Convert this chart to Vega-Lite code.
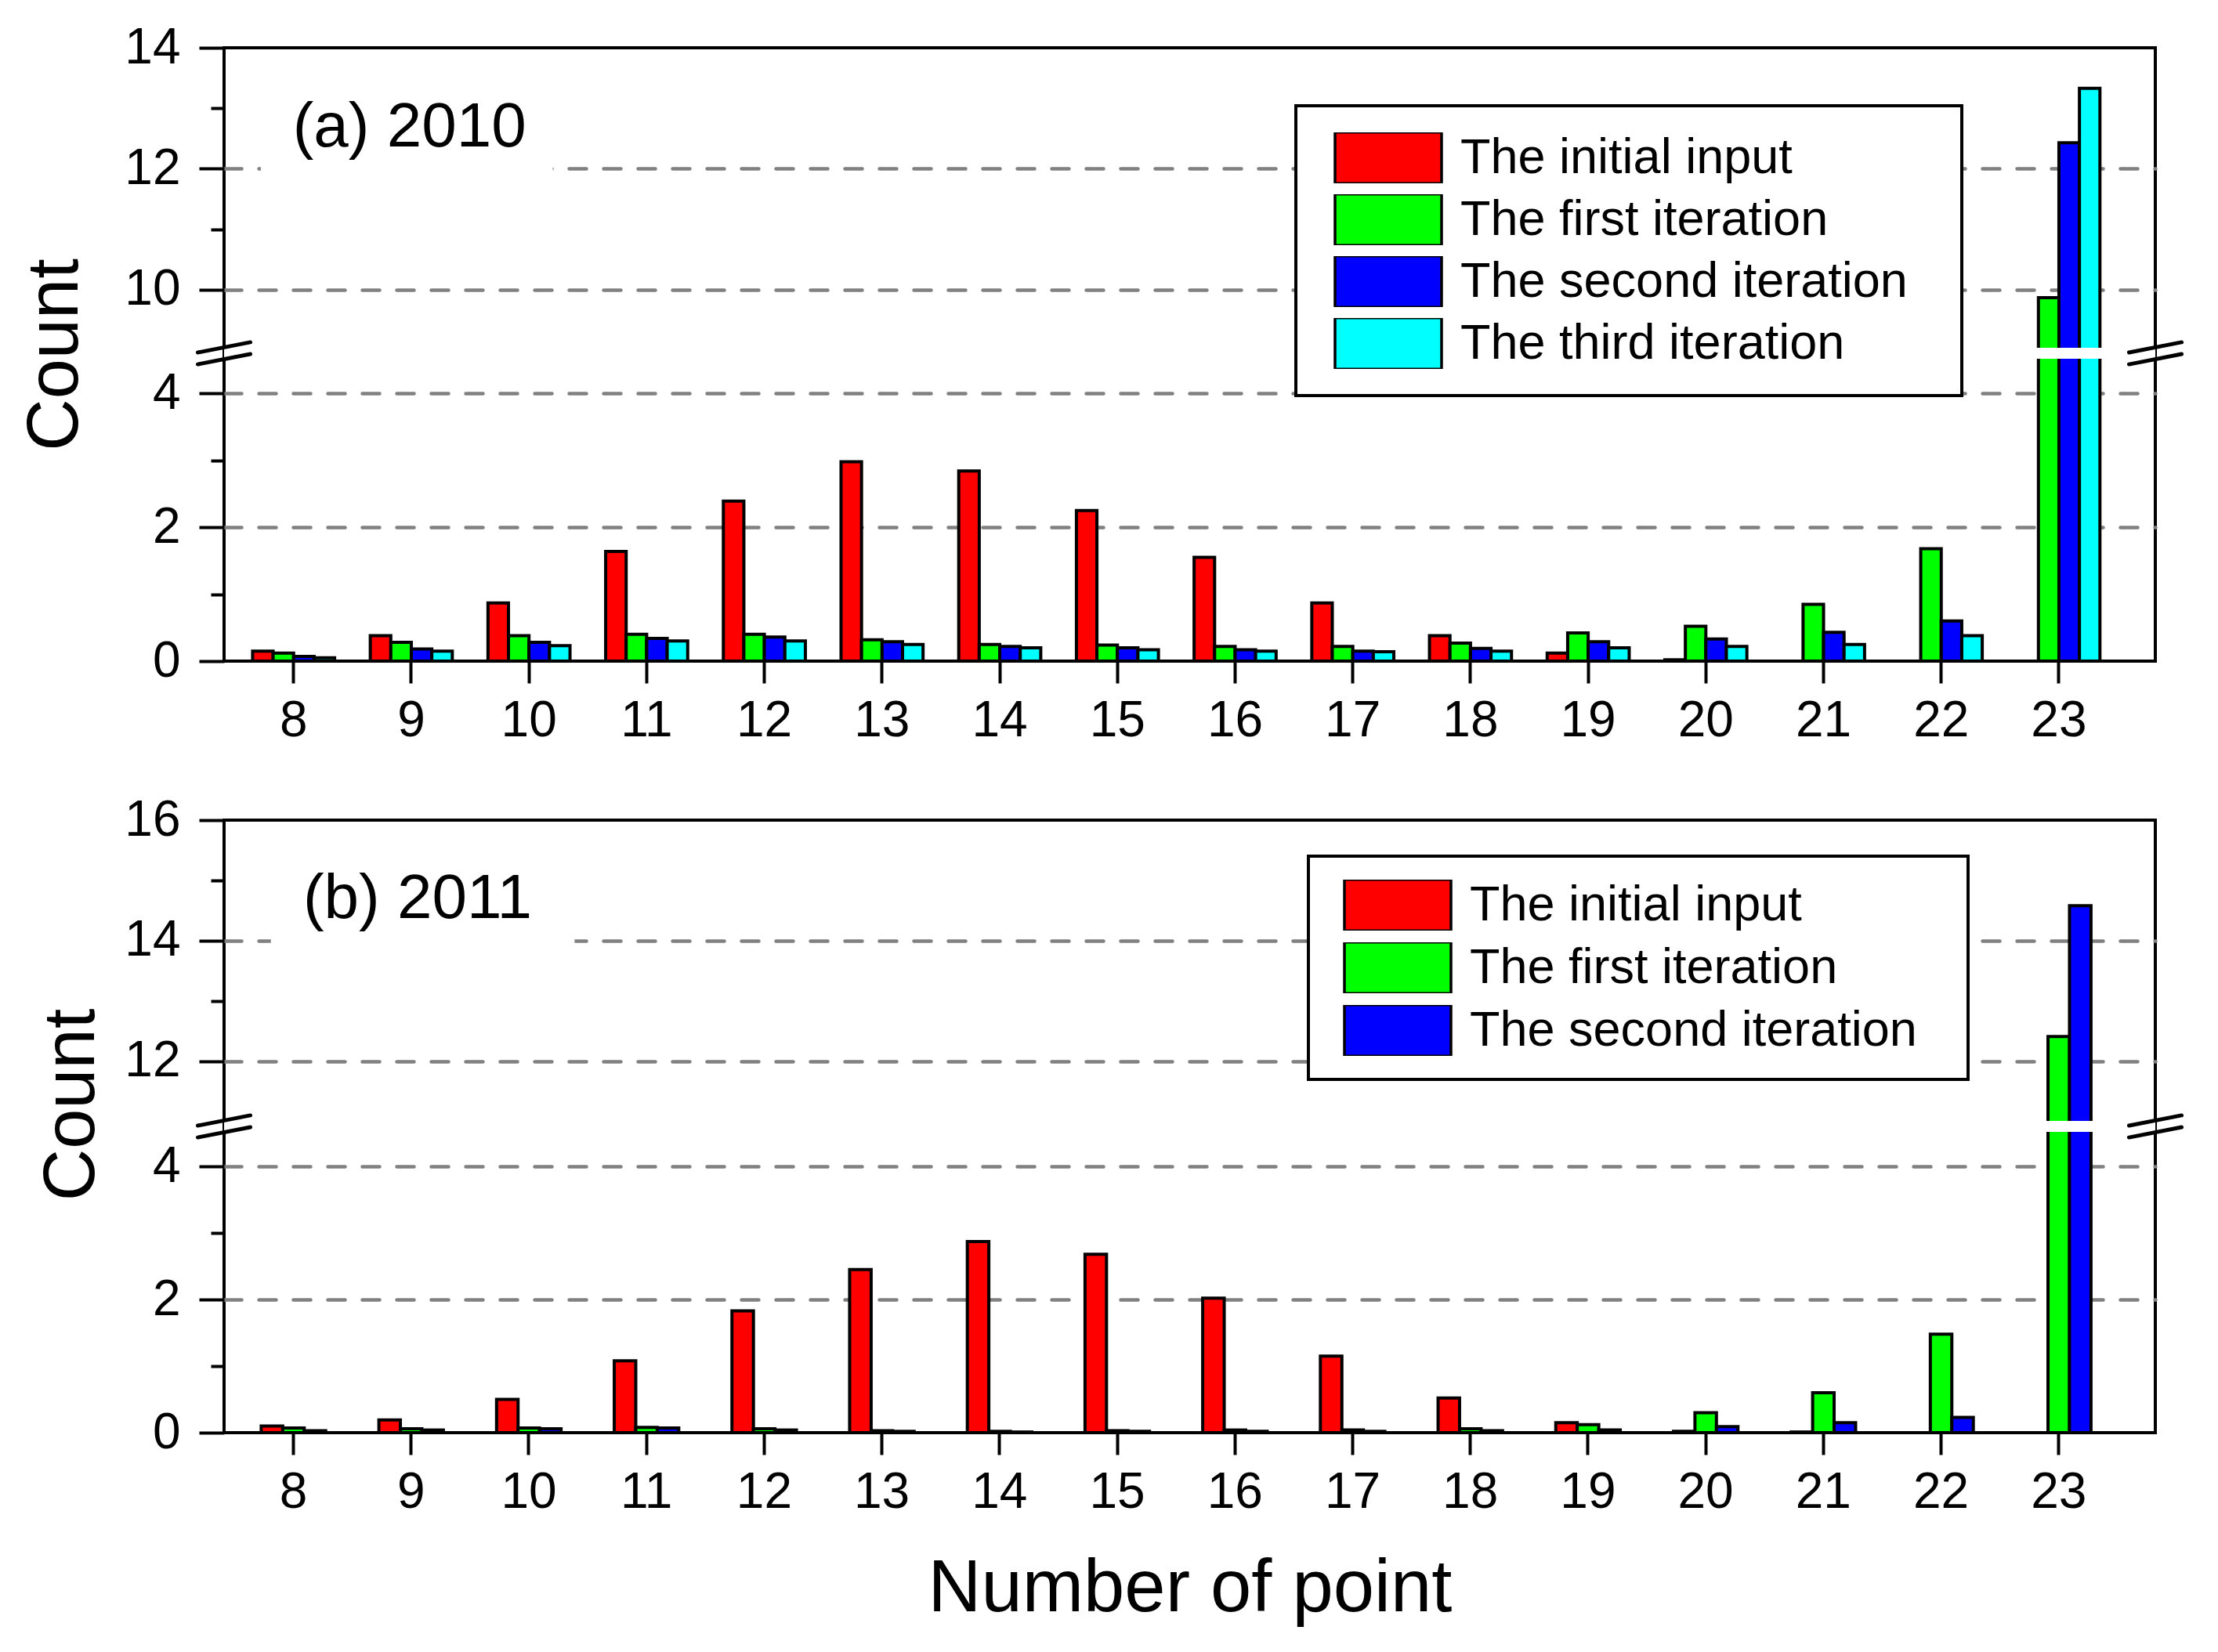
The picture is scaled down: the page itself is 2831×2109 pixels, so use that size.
{
  "$schema": "https://vega.github.io/schema/vega-lite/v6.json",
  "background": "white",
  "padding": {"left": 22, "top": 27, "right": 10, "bottom": 10},
  "spacing": 59,
  "config": {
    "font": "Liberation Sans",
    "view": {"stroke": "black", "strokeWidth": 4},
    "legend": {"strokeWidth": 4}
  },
  "datasets": {
    "y2010": [
      {"p": 8, "s": "The initial input", "v": 0.15}, {"p": 8, "s": "The first iteration", "v": 0.12}, {"p": 8, "s": "The second iteration", "v": 0.07}, {"p": 8, "s": "The third iteration", "v": 0.05},
      {"p": 9, "s": "The initial input", "v": 0.38}, {"p": 9, "s": "The first iteration", "v": 0.28}, {"p": 9, "s": "The second iteration", "v": 0.18}, {"p": 9, "s": "The third iteration", "v": 0.15},
      {"p": 10, "s": "The initial input", "v": 0.87}, {"p": 10, "s": "The first iteration", "v": 0.38}, {"p": 10, "s": "The second iteration", "v": 0.28}, {"p": 10, "s": "The third iteration", "v": 0.23},
      {"p": 11, "s": "The initial input", "v": 1.64}, {"p": 11, "s": "The first iteration", "v": 0.40}, {"p": 11, "s": "The second iteration", "v": 0.34}, {"p": 11, "s": "The third iteration", "v": 0.30},
      {"p": 12, "s": "The initial input", "v": 2.39}, {"p": 12, "s": "The first iteration", "v": 0.40}, {"p": 12, "s": "The second iteration", "v": 0.36}, {"p": 12, "s": "The third iteration", "v": 0.30},
      {"p": 13, "s": "The initial input", "v": 2.98}, {"p": 13, "s": "The first iteration", "v": 0.32}, {"p": 13, "s": "The second iteration", "v": 0.29}, {"p": 13, "s": "The third iteration", "v": 0.25},
      {"p": 14, "s": "The initial input", "v": 2.84}, {"p": 14, "s": "The first iteration", "v": 0.25}, {"p": 14, "s": "The second iteration", "v": 0.22}, {"p": 14, "s": "The third iteration", "v": 0.20},
      {"p": 15, "s": "The initial input", "v": 2.25}, {"p": 15, "s": "The first iteration", "v": 0.24}, {"p": 15, "s": "The second iteration", "v": 0.20}, {"p": 15, "s": "The third iteration", "v": 0.17},
      {"p": 16, "s": "The initial input", "v": 1.55}, {"p": 16, "s": "The first iteration", "v": 0.22}, {"p": 16, "s": "The second iteration", "v": 0.17}, {"p": 16, "s": "The third iteration", "v": 0.15},
      {"p": 17, "s": "The initial input", "v": 0.87}, {"p": 17, "s": "The first iteration", "v": 0.22}, {"p": 17, "s": "The second iteration", "v": 0.15}, {"p": 17, "s": "The third iteration", "v": 0.14},
      {"p": 18, "s": "The initial input", "v": 0.38}, {"p": 18, "s": "The first iteration", "v": 0.27}, {"p": 18, "s": "The second iteration", "v": 0.19}, {"p": 18, "s": "The third iteration", "v": 0.15},
      {"p": 19, "s": "The initial input", "v": 0.12}, {"p": 19, "s": "The first iteration", "v": 0.42}, {"p": 19, "s": "The second iteration", "v": 0.29}, {"p": 19, "s": "The third iteration", "v": 0.20},
      {"p": 20, "s": "The initial input", "v": 0.02}, {"p": 20, "s": "The first iteration", "v": 0.52}, {"p": 20, "s": "The second iteration", "v": 0.33}, {"p": 20, "s": "The third iteration", "v": 0.22},
      {"p": 21, "s": "The initial input", "v": 0}, {"p": 21, "s": "The first iteration", "v": 0.85}, {"p": 21, "s": "The second iteration", "v": 0.43}, {"p": 21, "s": "The third iteration", "v": 0.25},
      {"p": 22, "s": "The initial input", "v": 0}, {"p": 22, "s": "The first iteration", "v": 1.68}, {"p": 22, "s": "The second iteration", "v": 0.60}, {"p": 22, "s": "The third iteration", "v": 0.38},
      {"p": 23, "s": "The initial input", "v": 0}, {"p": 23, "s": "The first iteration", "v": 9.87}, {"p": 23, "s": "The second iteration", "v": 12.43}, {"p": 23, "s": "The third iteration", "v": 13.33}
    ],
    "y2011": [
      {"p": 8, "s": "The initial input", "v": 0.10}, {"p": 8, "s": "The first iteration", "v": 0.07}, {"p": 8, "s": "The second iteration", "v": 0.03},
      {"p": 9, "s": "The initial input", "v": 0.19}, {"p": 9, "s": "The first iteration", "v": 0.06}, {"p": 9, "s": "The second iteration", "v": 0.04},
      {"p": 10, "s": "The initial input", "v": 0.50}, {"p": 10, "s": "The first iteration", "v": 0.07}, {"p": 10, "s": "The second iteration", "v": 0.06},
      {"p": 11, "s": "The initial input", "v": 1.08}, {"p": 11, "s": "The first iteration", "v": 0.08}, {"p": 11, "s": "The second iteration", "v": 0.07},
      {"p": 12, "s": "The initial input", "v": 1.83}, {"p": 12, "s": "The first iteration", "v": 0.06}, {"p": 12, "s": "The second iteration", "v": 0.04},
      {"p": 13, "s": "The initial input", "v": 2.45}, {"p": 13, "s": "The first iteration", "v": 0.03}, {"p": 13, "s": "The second iteration", "v": 0.02},
      {"p": 14, "s": "The initial input", "v": 2.87}, {"p": 14, "s": "The first iteration", "v": 0.02}, {"p": 14, "s": "The second iteration", "v": 0.01},
      {"p": 15, "s": "The initial input", "v": 2.68}, {"p": 15, "s": "The first iteration", "v": 0.03}, {"p": 15, "s": "The second iteration", "v": 0.02},
      {"p": 16, "s": "The initial input", "v": 2.02}, {"p": 16, "s": "The first iteration", "v": 0.04}, {"p": 16, "s": "The second iteration", "v": 0.02},
      {"p": 17, "s": "The initial input", "v": 1.15}, {"p": 17, "s": "The first iteration", "v": 0.04}, {"p": 17, "s": "The second iteration", "v": 0.02},
      {"p": 18, "s": "The initial input", "v": 0.52}, {"p": 18, "s": "The first iteration", "v": 0.06}, {"p": 18, "s": "The second iteration", "v": 0.03},
      {"p": 19, "s": "The initial input", "v": 0.15}, {"p": 19, "s": "The first iteration", "v": 0.12}, {"p": 19, "s": "The second iteration", "v": 0.04},
      {"p": 20, "s": "The initial input", "v": 0.02}, {"p": 20, "s": "The first iteration", "v": 0.30}, {"p": 20, "s": "The second iteration", "v": 0.09},
      {"p": 21, "s": "The initial input", "v": 0.01}, {"p": 21, "s": "The first iteration", "v": 0.60}, {"p": 21, "s": "The second iteration", "v": 0.15},
      {"p": 22, "s": "The initial input", "v": 0}, {"p": 22, "s": "The first iteration", "v": 1.48}, {"p": 22, "s": "The second iteration", "v": 0.23},
      {"p": 23, "s": "The initial input", "v": 0}, {"p": 23, "s": "The first iteration", "v": 12.41}, {"p": 23, "s": "The second iteration", "v": 14.58}
    ]
  },
  "vconcat": [
    {
      "width": 2465,
      "height": 783,
      "layer": [
        {
          "data": {"name": "y2010"},
          "mark": {"type": "bar", "stroke": "black", "strokeWidth": 4, "strokeJoin": "miter", "opacity": 1},
          "encoding": {
            "x": {
              "field": "p", "type": "ordinal",
              "scale": {"paddingInner": 0.303, "paddingOuter": 0.3565, "align": 0.34},
              "axis": {"title": null, "labelAngle": 0, "domain": false, "grid": false, "tickSize": 28, "tickWidth": 4, "tickColor": "black", "labelFontSize": 64, "labelPadding": 16, "labelColor": "black", "zindex": 0}
            },
            "xOffset": {"field": "s", "type": "nominal", "sort": ["The initial input", "The first iteration", "The second iteration", "The third iteration"], "scale": {"paddingInner": 0, "paddingOuter": 0}},
            "y": {
              "field": "v", "type": "quantitative",
              "scale": {"domain": [0, 4.6, 8.95, 14], "range": [783, 390, 390, 0], "nice": false, "zero": false},
              "axis": {
                "title": "Count", "values": [0, 1, 2, 3, 4, 10, 11, 12, 13, 14], "format": "d",
                "labelExpr": "datum.value % 2 == 1 ? '' : datum.label",
                "tickSize": {"condition": {"test": "datum.value % 2 == 1", "value": 17}, "value": 32},
                "grid": true, "gridColor": "#808080", "gridDash": [22, 22], "gridWidth": 4.5, "gridCap": "round",
                "gridOpacity": {"condition": {"test": "datum.value % 2 == 1 || datum.value == 0 || datum.value == 14", "value": 0}, "value": 1},
                "domain": false, "tickColor": "black", "tickWidth": 4, "labelFontSize": 64, "labelPadding": 24, "labelColor": "black",
                "titleFontSize": 92, "titleFontWeight": "normal", "titleColor": "black", "titlePadding": 41, "zindex": 0
              }
            },
            "color": {
              "field": "s", "type": "nominal",
              "scale": {"domain": ["The initial input", "The first iteration", "The second iteration", "The third iteration"], "range": ["#ff0000", "#00ff00", "#0000ff", "#00ffff"]},
              "legend": {"title": null, "orient": "none", "legendX": 1368, "legendY": 74, "direction": "vertical", "symbolType": "M-1,-0.48H1V0.48H-1Z", "symbolSize": 18496, "symbolStrokeColor": "black", "symbolStrokeWidth": 3.5, "symbolOpacity": 1, "symbolOffset": 14, "clipHeight": 65, "rowPadding": 14, "labelFontSize": 63, "labelColor": "black", "labelOffset": 22, "labelLimit": 1200, "labelExpr": "datum.label + '\u00a0\u00a0\u200b'", "padding": 34, "strokeColor": "black", "fillColor": "white"}
            }
          }
        },
        {
          "data": {"values": [{}]},
          "mark": {"type": "rect", "color": "white"},
          "encoding": {"x": {"datum": 8, "type": "ordinal", "bandPosition": 0.1}, "x2": {"datum": 10, "bandPosition": 0.79}, "y": {"datum": 11.65}, "y2": {"datum": 13.6}}
        },
        {
          "data": {"values": [{}]},
          "mark": {"type": "text", "text": "(a) 2010", "fontSize": 80, "align": "left", "baseline": "alphabetic", "color": "black"},
          "encoding": {"x": {"datum": 8, "type": "ordinal", "bandPosition": 0.49}, "y": {"datum": 12.37}}
        },
        {
          "data": {"values": [{}]},
          "mark": {"type": "rule", "color": "white", "strokeWidth": 14},
          "encoding": {"y": {"datum": 4.6}}
        },
        {
          "data": {"values": [{}]},
          "mark": {"type": "point", "shape": "M-1,-0.03L1,-0.42M-1,0.42L1,0.03", "filled": false, "stroke": "black", "strokeWidth": 5, "strokeCap": "round", "size": 4500, "opacity": 1},
          "encoding": {"x": {"value": 0}, "y": {"datum": 4.6}}
        },
        {
          "data": {"values": [{}]},
          "mark": {"type": "point", "shape": "M-1,-0.03L1,-0.42M-1,0.42L1,0.03", "filled": false, "stroke": "black", "strokeWidth": 5, "strokeCap": "round", "size": 4500, "opacity": 1},
          "encoding": {"x": {"value": "width"}, "y": {"datum": 4.6}}
        }
      ]
    },
    {
      "width": 2465,
      "height": 782,
      "layer": [
        {
          "data": {"name": "y2011"},
          "mark": {"type": "bar", "stroke": "black", "strokeWidth": 4, "strokeJoin": "miter", "opacity": 1},
          "encoding": {
            "x": {
              "field": "p", "type": "ordinal",
              "scale": {"paddingInner": 0.452, "paddingOuter": 0.431, "align": 0.366},
              "axis": {"title": "Number of point", "titleFontSize": 94, "titleFontWeight": "normal", "titleColor": "black", "titlePadding": 45, "labelAngle": 0, "domain": false, "grid": false, "tickSize": 28, "tickWidth": 4, "tickColor": "black", "labelFontSize": 64, "labelPadding": 16, "labelColor": "black", "zindex": 0}
            },
            "xOffset": {"field": "s", "type": "nominal", "sort": ["The initial input", "The first iteration", "The second iteration"], "scale": {"paddingInner": 0, "paddingOuter": 0}},
            "y": {
              "field": "v", "type": "quantitative",
              "scale": {"domain": [0, 4.6, 10.92, 16], "range": [782, 391, 391, 0], "nice": false, "zero": false},
              "axis": {
                "title": "Count", "values": [0, 1, 2, 3, 4, 12, 13, 14, 15, 16], "format": "d",
                "labelExpr": "datum.value % 2 == 1 ? '' : datum.label",
                "tickSize": {"condition": {"test": "datum.value % 2 == 1", "value": 17}, "value": 32},
                "grid": true, "gridColor": "#808080", "gridDash": [22, 22], "gridWidth": 4.5, "gridCap": "round",
                "gridOpacity": {"condition": {"test": "datum.value % 2 == 1 || datum.value == 0 || datum.value == 16", "value": 0}, "value": 1},
                "domain": false, "tickColor": "black", "tickWidth": 4, "labelFontSize": 64, "labelPadding": 24, "labelColor": "black",
                "titleFontSize": 92, "titleFontWeight": "normal", "titleColor": "black", "titlePadding": 20, "titleY": 363, "zindex": 0
              }
            },
            "color": {
              "field": "s", "type": "nominal",
              "scale": {"domain": ["The initial input", "The first iteration", "The second iteration"], "range": ["#ff0000", "#00ff00", "#0000ff"]},
              "legend": {"title": null, "orient": "none", "legendX": 1384, "legendY": 46, "direction": "vertical", "symbolType": "M-1,-0.48H1V0.48H-1Z", "symbolSize": 18496, "symbolStrokeColor": "black", "symbolStrokeWidth": 3.5, "symbolOpacity": 1, "symbolOffset": 14, "clipHeight": 65, "rowPadding": 15, "labelFontSize": 63, "labelColor": "black", "labelOffset": 22, "labelLimit": 1200, "labelExpr": "datum.label + '\u00a0\u00a0\u200b'", "padding": 30, "strokeColor": "black", "fillColor": "white"}
            }
          }
        },
        {
          "data": {"values": [{}]},
          "mark": {"type": "rect", "color": "white"},
          "encoding": {"x": {"datum": 8, "type": "ordinal", "bandPosition": 0.15}, "x2": {"datum": 10, "bandPosition": 1.21}, "y": {"datum": 13.65}, "y2": {"datum": 15.6}}
        },
        {
          "data": {"values": [{}]},
          "mark": {"type": "text", "text": "(b) 2011", "fontSize": 80, "align": "left", "baseline": "alphabetic", "color": "black"},
          "encoding": {"x": {"datum": 8, "type": "ordinal", "bandPosition": 0.65}, "y": {"datum": 14.37}}
        },
        {
          "data": {"values": [{}]},
          "mark": {"type": "rule", "color": "white", "strokeWidth": 14},
          "encoding": {"y": {"datum": 4.6}}
        },
        {
          "data": {"values": [{}]},
          "mark": {"type": "point", "shape": "M-1,-0.03L1,-0.42M-1,0.42L1,0.03", "filled": false, "stroke": "black", "strokeWidth": 5, "strokeCap": "round", "size": 4500, "opacity": 1},
          "encoding": {"x": {"value": 0}, "y": {"datum": 4.6}}
        },
        {
          "data": {"values": [{}]},
          "mark": {"type": "point", "shape": "M-1,-0.03L1,-0.42M-1,0.42L1,0.03", "filled": false, "stroke": "black", "strokeWidth": 5, "strokeCap": "round", "size": 4500, "opacity": 1},
          "encoding": {"x": {"value": "width"}, "y": {"datum": 4.6}}
        }
      ]
    }
  ],
  "resolve": {
    "scale": {"x": "independent", "y": "independent", "color": "independent", "xOffset": "independent"},
    "legend": {"color": "independent"}
  }
}
